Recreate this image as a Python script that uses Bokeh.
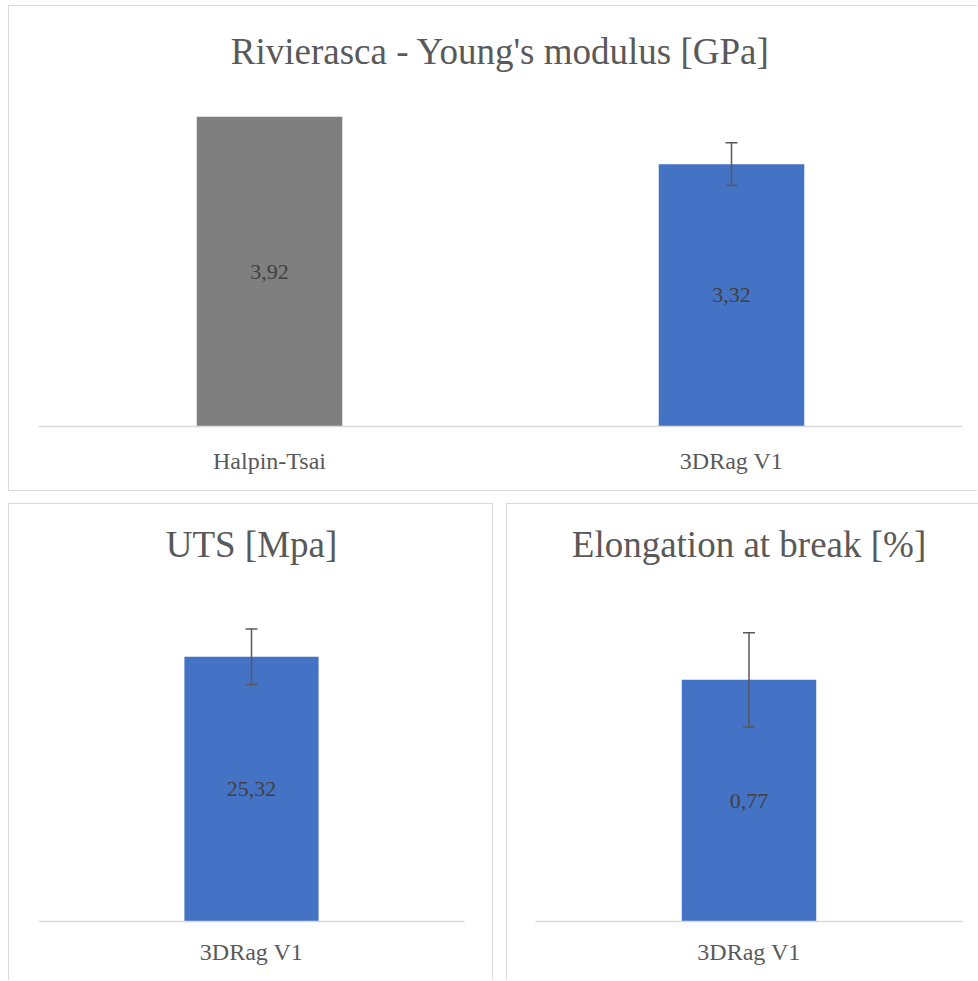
from bokeh.plotting import figure
from bokeh.models import ColumnDataSource, Whisker, TeeHead, FactorRange, Range1d, Spacer
from bokeh.layouts import column, row
from bokeh.embed import file_html
from bokeh.resources import INLINE
from bokeh.core.properties import value

# ---------------- data ----------------
young_title = "Rivierasca - Young's modulus [GPa]"
young_categories = ["Halpin-Tsai", "3DRag V1"]
young_values = [3.92, 3.32]
young_errors = [None, 0.27]
young_colors = ["#7f7f7f", "#4472c4"]

uts_title = "UTS [Mpa]"
uts_categories = ["3DRag V1"]
uts_values = [25.32]
uts_errors = [2.65]
uts_colors = ["#4472c4"]

elong_title = "Elongation at break [%]"
elong_categories = ["3DRag V1"]
elong_values = [0.77]
elong_errors = [0.15]
elong_colors = ["#4472c4"]

FONT = "Liberation Serif"
TEXT = "#595959"
LABEL = "#404040"
BORDER = "#d9d9d9"


def make_panel(title, cats, vals, errs, colors, y_end, width, height,
               b_left, b_right, b_top, b_bottom, standoff, sides):
    styles = {}
    for s in ("top", "right", "bottom", "left"):
        styles[f"border-{s}"] = f"1px solid {BORDER}" if s in sides else "none"
    p = figure(x_range=FactorRange(*cats), y_range=Range1d(0, y_end),
               width=width, height=height, output_backend="svg",
               toolbar_location=None, y_axis_location=None,
               min_border_left=b_left, min_border_right=b_right,
               min_border_top=b_top, min_border_bottom=b_bottom,
               styles=styles)
    p.title.text = title
    p.title.text_font = FONT
    p.title.text_font_size = "37px"
    p.title.text_font_style = "normal"
    p.title.text_color = TEXT
    p.title.align = "center"
    p.title.standoff = 10

    p.xgrid.visible = False
    p.ygrid.visible = False
    p.outline_line_color = None
    p.background_fill_color = "white"
    p.border_fill_color = "white"

    ax = p.xaxis[0]
    ax.axis_line_color = BORDER
    ax.axis_line_width = 1.5
    ax.major_tick_line_color = None
    ax.minor_tick_line_color = None
    ax.major_label_text_font = FONT
    ax.major_label_text_font_size = "24px"
    ax.major_label_text_color = TEXT
    ax.major_label_standoff = standoff

    src = ColumnDataSource(dict(
        cat=cats, val=vals, color=colors,
        mid=[v / 2 for v in vals],
        label=[f"{v:.2f}".replace(".", ",") for v in vals],
    ))
    p.vbar(x="cat", top="val", width=0.315, fill_color="color",
           line_color=None, source=src)
    p.text(x="cat", y="mid", text="label", source=src,
           text_align="center", text_baseline="middle",
           text_font=value(FONT), text_font_size="22px", text_color=LABEL)

    ec, eu, el = [], [], []
    for c, v, e in zip(cats, vals, errs):
        if e is not None:
            ec.append(c)
            eu.append(v + e)
            el.append(v - e)
    if ec:
        esrc = ColumnDataSource(dict(cat=ec, upper=eu, lower=el))
        w = Whisker(base="cat", upper="upper", lower="lower", source=esrc,
                    line_color=TEXT, line_width=1.5, level="overlay",
                    upper_head=TeeHead(size=12, line_color=TEXT, line_width=1.5),
                    lower_head=TeeHead(size=12, line_color=TEXT, line_width=1.5))
        p.add_layout(w)
    return p


top = make_panel(young_title, young_categories, young_values, young_errors,
                 young_colors, 4.429, 969, 486, 29, 16, 70, 66, 15,
                 ("top", "left", "bottom"))
bl = make_panel(uts_title, uts_categories, uts_values, uts_errors,
                uts_colors, 33.66, 485, 477, 29, 30, 65, 60, 11,
                ("top", "left", "right"))
br = make_panel(elong_title, elong_categories, elong_values, elong_errors,
                elong_colors, 1.1215, 472, 477, 28, 17, 65, 60, 11,
                ("top", "left"))

layout = column(
    Spacer(height=5),
    row(Spacer(width=8), top),
    Spacer(height=12),
    row(Spacer(width=8), bl, Spacer(width=13), br),
)

open("out.html", "w").write(file_html(layout, INLINE))
